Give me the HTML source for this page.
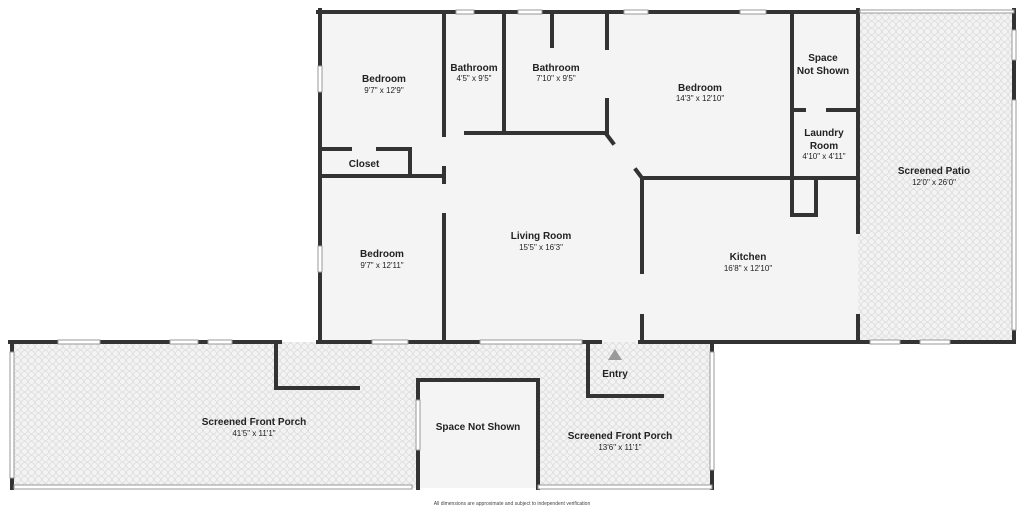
<!DOCTYPE html>
<html><head><meta charset="utf-8"><style>
html,body{margin:0;padding:0;background:#fff;}
svg{display:block;}
text{font-family:"Liberation Sans","DejaVu Sans",sans-serif;fill:#222;text-anchor:middle;}
.t{font-size:10px;font-weight:bold;}
.d{font-size:8px;}
</style></head><body>
<svg width="1024" height="508" viewBox="0 0 1024 508" xmlns="http://www.w3.org/2000/svg">
<defs>
<pattern id="p" width="7" height="7" patternUnits="userSpaceOnUse">
<rect width="7" height="7" fill="#f3f3f3"/>
<circle cx="3.5" cy="3.5" r="3" fill="none" stroke="#dcdcdc" stroke-width="0.8"/>
</pattern>
</defs>
<!-- floors -->
<rect x="318" y="10" width="540" height="332" fill="#f4f4f4"/>
<rect x="858" y="10" width="156" height="332" fill="url(#p)"/>
<rect x="10" y="342" width="704" height="146" fill="url(#p)"/>
<rect x="416" y="380" width="122" height="108" fill="#f4f4f4"/>
<g stroke="#333" stroke-width="4" fill="none" stroke-linecap="square">
<!-- outer house -->
<path d="M318 12 H456 M474 12 H518 M542 12 H624 M648 12 H740 M766 12 H858"/>
<path d="M320 10 V66 M320 92 V246 M320 272 V342"/>
<path d="M318 342 H372 M408 342 H480 M582 342 H600"/>
<path d="M640 342 H858"/>
<path d="M858 10 V232 M858 316 V342"/>
<!-- interior -->
<path d="M444 12 V135 M444 168 V182 M444 215 V342"/>
<path d="M504 12 V133"/>
<path d="M466 133 H607"/>
<path d="M607 12 V48 M607 100 V133"/>
<path d="M607 135 L613 143 M636 170 L642 178"/>
<path d="M642 178 H858"/>
<path d="M642 178 V272 M642 316 V342"/>
<path d="M552 12 V46"/>
<path d="M792 12 V178"/>
<path d="M792 110 H804 M828 110 H858"/>
<path d="M792 178 V215 H816 V178"/>
<path d="M320 149 H350 M378 149 H410 V176"/>
<path d="M320 176 H444"/>
<!-- patio outer -->
<path d="M1014 10 V30 M1014 60 V100 M1014 330 V342 M858 342 H870 M900 342 H920 M950 342 H1014"/>
<!-- porch -->
<path d="M10 342 H58 M100 342 H170 M198 342 H208 M232 342 H280"/>
<path d="M12 342 V352 M12 478 V488"/>
<path d="M276 342 V388 H358"/>
<path d="M418 380 H538 V488 M418 380 V400 M418 450 V488"/>
<path d="M588 342 V396 H662"/>
<path d="M712 342 V352 M712 470 V488"/>
</g>
<!-- windows -->
<g stroke="#999" stroke-width="1" fill="#fff">
<rect x="456" y="10" width="18" height="4"/><rect x="518" y="10" width="24" height="4"/>
<rect x="624" y="10" width="24" height="4"/><rect x="740" y="10" width="26" height="4"/>
<rect x="318" y="66" width="4" height="26"/><rect x="318" y="246" width="4" height="26"/>
<rect x="372" y="340" width="36" height="4"/><rect x="480" y="340" width="102" height="4"/>
<rect x="58" y="340" width="42" height="4"/><rect x="170" y="340" width="28" height="4"/><rect x="208" y="340" width="24" height="4"/>
<rect x="870" y="340" width="30" height="4"/><rect x="920" y="340" width="30" height="4"/>
<rect x="860" y="10" width="154" height="3"/>
<rect x="1012" y="30" width="4" height="30"/><rect x="1012" y="100" width="4" height="230"/>
<rect x="10" y="352" width="4" height="126"/>
<rect x="14" y="485" width="398" height="4"/>
<rect x="416" y="400" width="4" height="50"/>
<rect x="710" y="352" width="4" height="118"/>
<rect x="538" y="485" width="174" height="4"/>
</g>
<polygon points="608,360 622,360 615,349" fill="#999"/>
<!-- labels -->
<text class="t" x="384" y="82">Bedroom</text><text class="d" x="384" y="93">9'7" x 12'9"</text>
<text class="t" x="474" y="71">Bathroom</text><text class="d" x="474" y="81">4'5" x 9'5"</text>
<text class="t" x="556" y="71">Bathroom</text><text class="d" x="556" y="81">7'10" x 9'5"</text>
<text class="t" x="700" y="91">Bedroom</text><text class="d" x="700" y="101">14'3" x 12'10"</text>
<text class="t" x="823" y="61">Space</text><text class="t" x="823" y="74">Not Shown</text>
<text class="t" x="824" y="136">Laundry</text><text class="t" x="824" y="149">Room</text><text class="d" x="824" y="159">4'10" x 4'11"</text>
<text class="t" x="934" y="174">Screened Patio</text><text class="d" x="934" y="185">12'0" x 26'0"</text>
<text class="t" x="364" y="167">Closet</text>
<text class="t" x="382" y="257">Bedroom</text><text class="d" x="382" y="268">9'7" x 12'11"</text>
<text class="t" x="541" y="239">Living Room</text><text class="d" x="541" y="250">15'5" x 16'3"</text>
<text class="t" x="748" y="260">Kitchen</text><text class="d" x="748" y="271">16'8" x 12'10"</text>
<text class="t" x="615" y="377">Entry</text>
<text class="t" x="254" y="425">Screened Front Porch</text><text class="d" x="254" y="436">41'5" x 11'1"</text>
<text class="t" x="478" y="430">Space Not Shown</text>
<text class="t" x="620" y="439">Screened Front Porch</text><text class="d" x="620" y="450">13'6" x 11'1"</text>
<text x="512" y="505" style="font-size:5px;fill:#444">All dimensions are approximate and subject to independent verification</text>
</svg>
</body></html>
